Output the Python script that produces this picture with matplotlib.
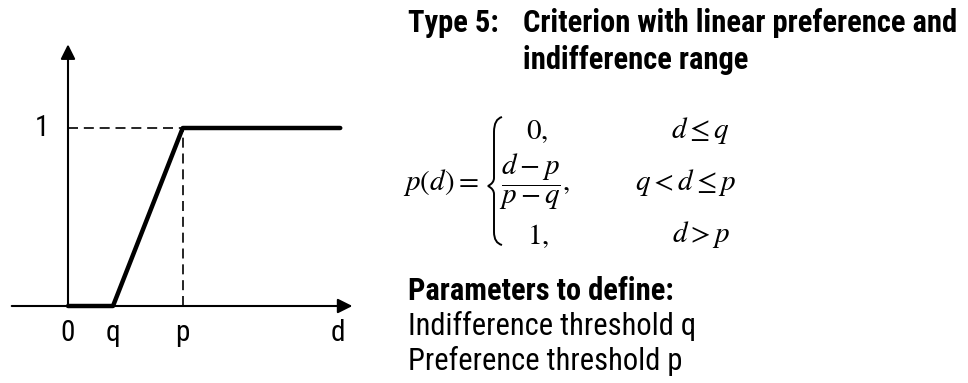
import matplotlib
matplotlib.use("Agg")
import matplotlib.pyplot as plt
from matplotlib import font_manager
from matplotlib.path import Path
from matplotlib.patches import PathPatch, FancyArrowPatch

# diagram values (d in units of q)
q = 1.0
p = 2.55
d_end = 6.05
d_points = [0, q, p, d_end]
pref = [0, 0, 1, 1]
tick_labels = ["0", "q", "p", "d"]

title_lines = ["Type 5:", "Criterion with linear preference and", "indifference range"]
param_head = "Parameters to define:"
param_lines = ["Indifference threshold q", "Preference threshold p"]

names = {f.name for f in font_manager.fontManager.ttflist}
narrow = "Liberation Sans"
for cand in ["Liberation Sans Narrow", "Arial Narrow", "Roboto Condensed"]:
    if cand in names:
        narrow = cand
        break

plt.rcParams["mathtext.fontset"] = "stix"

W, H = 968, 383
fig = plt.figure(figsize=(W / 100, H / 100), dpi=100)

# pixel-space layer for the text side
ax_t = fig.add_axes([0, 0, 1, 1])
ax_t.set_xlim(0, W)
ax_t.set_ylim(H, 0)
ax_t.axis("off")

# diagram axes: pixel x = 68 + 45*d, pixel y = 306 - 178*v
ax = fig.add_axes([0, 0, 380 / W, 1])
ax.set_xlim(-68 / 45, (380 - 68) / 45)
ax.set_ylim((306 - 383) / 178, 306 / 178)
ax.axis("off")

ax.add_patch(FancyArrowPatch((-1.25, 0), (6.32, 0), arrowstyle="-|>",
                             mutation_scale=22, lw=1.5, color="black",
                             shrinkA=0, shrinkB=0))
ax.add_patch(FancyArrowPatch((0, 0), (0, 1.47), arrowstyle="-|>",
                             mutation_scale=22, lw=1.5, color="black",
                             shrinkA=0, shrinkB=0))

# dashed guides
ax.plot([0, p], [1, 1], color="black", lw=1.2, ls=(0, (6, 3.5)))
ax.plot([p, p], [0, 1], color="black", lw=1.2, ls=(0, (6, 3.5)))

# preference function
ax.plot(d_points, pref, color="black", lw=3.2, solid_capstyle="round",
        solid_joinstyle="round")

for x, lab in zip([0, q, p, d_end - 0.05], tick_labels):
    ax.text(x, -0.15, lab, ha="center", va="center", fontsize=21, family=narrow)
ax.text(-0.58, 1, "1", ha="center", va="center", fontsize=21, family=narrow)

# title
tfs = 22
ax_t.text(408, 32, title_lines[0], ha="left", va="baseline", fontsize=tfs,
          family=narrow, weight="bold")
ax_t.text(523, 32, title_lines[1], ha="left", va="baseline", fontsize=tfs,
          family=narrow, weight="bold")
ax_t.text(523, 69, title_lines[2], ha="left", va="baseline", fontsize=tfs,
          family=narrow, weight="bold")

# formula
fs = 21
ax_t.text(479, 183, r"$p(d) =$", ha="right", va="center", fontsize=fs)
brace = Path([(502, 117), (494, 119), (494, 132), (494, 178), (494, 183),
              (488, 186), (494, 189), (494, 194), (494, 232), (494, 243),
              (502, 245)],
             [Path.MOVETO, Path.CURVE3, Path.CURVE3, Path.LINETO, Path.CURVE3,
              Path.CURVE3, Path.CURVE3, Path.CURVE3, Path.LINETO, Path.CURVE3,
              Path.CURVE3])
ax_t.add_patch(PathPatch(brace, fill=False, lw=1.4, color="black"))
ax_t.text(537, 131, r"$0,$", ha="center", va="center", fontsize=fs)
ax_t.text(535, 182, r"$\dfrac{d-p}{p-q},$", ha="center", va="center", fontsize=fs)
ax_t.text(538, 236, r"$1,$", ha="center", va="center", fontsize=fs)
ax_t.text(701, 131, r"$d \leq q$", ha="center", va="center", fontsize=fs)
ax_t.text(686, 182, r"$q < d \leq p$", ha="center", va="center", fontsize=fs)
ax_t.text(701, 235, r"$d > p$", ha="center", va="center", fontsize=fs)

# parameters
pfs = 22
ax_t.text(408, 300, param_head, ha="left", va="baseline", fontsize=pfs,
          family=narrow, weight="bold")
ax_t.text(408, 335, param_lines[0], ha="left", va="baseline", fontsize=pfs,
          family=narrow)
ax_t.text(408, 370, param_lines[1], ha="left", va="baseline", fontsize=pfs,
          family=narrow)

fig.savefig("out.png", dpi=100)
